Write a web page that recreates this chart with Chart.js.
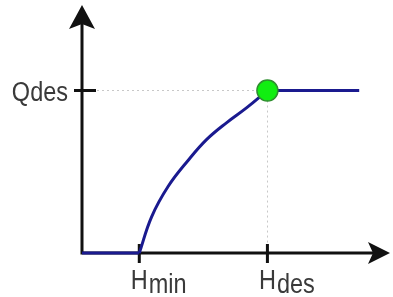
<!DOCTYPE html>
<html><head><meta charset="utf-8">
<script src="https://cdn.jsdelivr.net/npm/chart.js@4/dist/chart.umd.min.js"></script>
<style>html,body{margin:0;padding:0;background:#fff;}#wrap{width:393px;height:297px;}</style>
</head><body><div id="wrap"><canvas id="c" width="393" height="297"></canvas></div>
<script>
// Pump curve: head H vs flow Q (normalised units, 0-100 on each axis)
const headH = [0, 18.6, 22.6, 28.0, 34.5, 40.5, 47.0, 53.5, 60.2, 90];
const flowQ = [0, 0, 14.6, 26.9, 37.4, 45.8, 52.6, 58.6, 65.5, 65.5];
const designH = [60.2];
const designQ = [65.5];
const xTickValues = [18.6, 60.2];
const xTickMain = ['H', 'H'];
const xTickSub = ['min', 'des'];
const yTickValues = [65.5];
const yTickLabels = ['Qdes'];

const FONT = '"Liberation Sans", Arial, sans-serif';
const TEXT_SX = 0.87;

const pts = headH.map((h, i) => ({x: h, y: flowQ[i]}));
const riseStart = 1, riseEnd = headH.length - 2;

const axesPlugin = {
  id: 'arrowAxes',
  beforeDatasetsDraw(chart) {
    const ctx = chart.ctx, xs = chart.scales.x, ys = chart.scales.y;
    const x0 = xs.getPixelForValue(0), y0 = ys.getPixelForValue(0);
    const xEnd = xs.getPixelForValue(xs.max), yTop = ys.getPixelForValue(ys.max);
    const px = xs.getPixelForValue(designH[0]), py = ys.getPixelForValue(designQ[0]);
    ctx.save();
    ctx.strokeStyle = '#c8c8c8';
    ctx.lineWidth = 1;
    ctx.setLineDash([2, 3]);
    ctx.beginPath();
    ctx.moveTo(x0, Math.round(py) - 0.5); ctx.lineTo(px, Math.round(py) - 0.5);
    ctx.moveTo(Math.round(px) + 0.5, py); ctx.lineTo(Math.round(px) + 0.5, y0);
    ctx.stroke();
    ctx.setLineDash([]);
    ctx.strokeStyle = '#111';
    ctx.fillStyle = '#111';
    ctx.lineWidth = 3;
    ctx.lineCap = 'square';
    ctx.beginPath();
    ctx.moveTo(x0, y0); ctx.lineTo(x0, yTop + 18);
    ctx.moveTo(x0, y0); ctx.lineTo(xEnd - 18, y0);
    ctx.stroke();
    ctx.lineCap = 'butt';
    ctx.beginPath();
    ctx.moveTo(x0, yTop);
    ctx.lineTo(x0 - 13, yTop + 24);
    ctx.lineTo(x0, yTop + 19);
    ctx.lineTo(x0 + 13, yTop + 24);
    ctx.closePath();
    ctx.fill();
    ctx.beginPath();
    ctx.moveTo(xEnd, y0);
    ctx.lineTo(xEnd - 22, y0 - 11);
    ctx.lineTo(xEnd - 17, y0);
    ctx.lineTo(xEnd - 22, y0 + 11);
    ctx.closePath();
    ctx.fill();
    ctx.lineWidth = 3;
    ctx.beginPath();
    xTickValues.forEach(v => {
      const x = xs.getPixelForValue(v);
      ctx.moveTo(x, y0 - 9); ctx.lineTo(x, y0 + 10);
    });
    yTickValues.forEach(v => {
      const y = ys.getPixelForValue(v);
      ctx.moveTo(x0 - 8, y); ctx.lineTo(x0 + 14, y);
    });
    ctx.stroke();
    ctx.restore();
  },
  afterDraw(chart) {
    const ctx = chart.ctx, xs = chart.scales.x, ys = chart.scales.y;
    const x0 = xs.getPixelForValue(0), y0 = ys.getPixelForValue(0);
    ctx.save();
    ctx.fillStyle = '#3a3a3a';
    ctx.font = '27px ' + FONT;
    ctx.textBaseline = 'alphabetic';
    xTickValues.forEach((v, i) => {
      const x = xs.getPixelForValue(v);
      const w = ctx.measureText(xTickMain[i]).width * TEXT_SX;
      ctx.save();
      ctx.translate(x - w / 2, y0 + 36);
      ctx.scale(TEXT_SX, 1);
      ctx.textAlign = 'left';
      ctx.fillText(xTickMain[i], 0, 0);
      ctx.fillText(xTickSub[i], (w + 1) / TEXT_SX, 4);
      ctx.restore();
    });
    yTickValues.forEach((v, i) => {
      const y = ys.getPixelForValue(v);
      ctx.save();
      ctx.translate(x0 - 14, y + 10);
      ctx.scale(TEXT_SX, 1);
      ctx.textAlign = 'right';
      ctx.fillText(yTickLabels[i], 0, 0);
      ctx.restore();
    });
    ctx.restore();
  }
};

const lineStyle = {
  borderColor: '#1a1a8f',
  borderWidth: 3,
  pointRadius: 0,
  fill: false,
  order: 1
};

new Chart(document.getElementById('c'), {
  type: 'line',
  data: {
    datasets: [
      {
        type: 'scatter',
        data: designH.map((h, i) => ({x: h, y: designQ[i]})),
        pointRadius: 10.5,
        pointBackgroundColor: '#11ee11',
        pointBorderColor: '#2f8f2f',
        pointBorderWidth: 1.5,
        order: 0
      },
      Object.assign({ data: pts.slice(0, riseStart + 1), tension: 0 }, lineStyle),
      Object.assign({ data: pts.slice(riseStart, riseEnd + 1), tension: 0.4 }, lineStyle),
      Object.assign({ data: pts.slice(riseEnd), tension: 0 }, lineStyle)
    ]
  },
  options: {
    responsive: false,
    animation: false,
    devicePixelRatio: 1,
    clip: false,
    layout: { autoPadding: false, padding: { left: 82, right: 3, top: 5, bottom: 44 } },
    plugins: { legend: { display: false }, tooltip: { enabled: false } },
    scales: {
      x: { type: 'linear', min: 0, max: 100, display: false },
      y: { type: 'linear', min: 0, max: 100, display: false }
    }
  },
  plugins: [axesPlugin]
});
</script>
</body></html>
